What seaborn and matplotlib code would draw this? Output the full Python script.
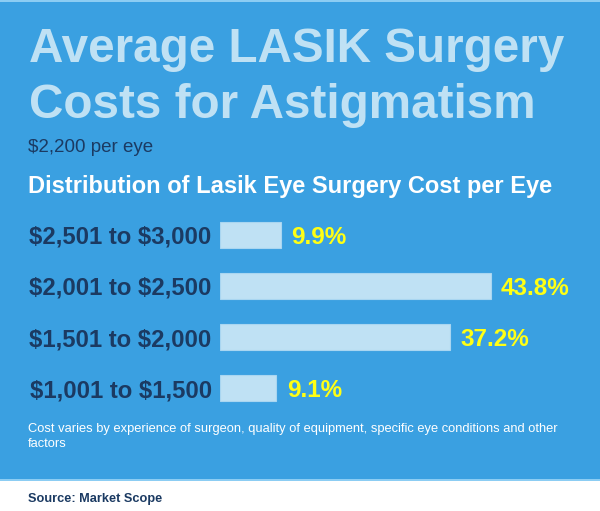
import numpy as np
import pandas as pd
import matplotlib.pyplot as plt
import seaborn as sns
from matplotlib.patches import Rectangle

# data
cost_ranges = ["$2,501 to $3,000", "$2,001 to $2,500", "$1,501 to $2,000", "$1,001 to $1,500"]
share_pct = [9.9, 43.8, 37.2, 9.1]
pct_labels = ["9.9%", "43.8%", "37.2%", "9.1%"]

title = "Average LASIK Surgery\nCosts for Astigmatism"
subtitle = "$2,200 per eye"
heading = "Distribution of Lasik Eye Surgery Cost per Eye"
note = "Cost varies by experience of surgeon, quality of equipment, specific eye conditions and other\nfactors"
source = "Source: Market Scope"

bg_blue = "#3aa0e1"
light_blue = "#bfe1f4"
navy = "#1b3a62"
yellow = "#ffff14"

sns.set_style("white")
plt.rcParams['font.family'] = ['Liberation Sans', 'DejaVu Sans']

W, H = 600, 511
fig = plt.figure(figsize=(6, 5.11), dpi=100, facecolor=bg_blue)

def fy(px):
    return 1 - px / H

def fx(px):
    return px / W

# white footer strip + thin light lines
fig.patches.append(Rectangle((0, 0), 1, fy(480), transform=fig.transFigure,
                             facecolor="white", edgecolor="none", zorder=0))
fig.patches.append(Rectangle((0, fy(481)), 1, 2 / H, transform=fig.transFigure,
                             facecolor="#8ccdf3", edgecolor="none", zorder=0))
fig.patches.append(Rectangle((0, fy(2)), 1, 2 / H, transform=fig.transFigure,
                             facecolor="#8ccdf3", edgecolor="none", zorder=0))

df = pd.DataFrame({"range": cost_ranges, "share": share_pct})

ax = fig.add_axes([fx(220), fy(414.1), 370.8 / W, 205 / H])
sns.barplot(data=df, x="share", y="range", orient="h", color=light_blue,
            saturation=1, width=0.507, edgecolor="#a9d6f1", linewidth=0.8, ax=ax)
ax.set_xlim(0, 60)
ax.set_ylim(3.5, -0.5)
ax.set_facecolor("none")
for s in ax.spines.values():
    s.set_visible(False)
ax.set_xticks([])
ax.set_xlabel("")
ax.set_ylabel("")
# escape the dollar signs so mathtext leaves them alone
ax.set_yticks(range(len(cost_ranges)), [c.replace("$", r"\$") for c in cost_ranges],
              fontweight="bold")
ax.tick_params(axis="y", length=0, pad=6, labelsize=17.2, labelcolor=navy)

txts = ax.bar_label(ax.containers[0], labels=pct_labels, padding=7.5, color=yellow,
                    fontsize=17.5, fontweight="bold")
for t in txts:
    t.set_va("center_baseline")

# texts
fig.text(fx(29), fy(62), "Average LASIK Surgery", fontsize=34.3, fontweight="bold",
         color=light_blue, va="baseline", ha="left")
fig.text(fx(29), fy(118), "Costs for Astigmatism", fontsize=34.3, fontweight="bold",
         color=light_blue, va="baseline", ha="left")
fig.text(fx(28), fy(152), subtitle, fontsize=13.5, color=navy, va="baseline")
fig.text(fx(28), fy(193), heading, fontsize=17, fontweight="bold", color="white",
         va="baseline")
fig.text(fx(28), fy(431.5), note.split("\n")[0], fontsize=9.3, color="white", va="baseline")
fig.text(fx(28), fy(447), note.split("\n")[1], fontsize=9.3, color="white", va="baseline")
fig.text(fx(28), fy(501.5), source, fontsize=9.2, fontweight="bold", color=navy,
         va="baseline")

fig.savefig("out.png", dpi=100, facecolor=bg_blue)
